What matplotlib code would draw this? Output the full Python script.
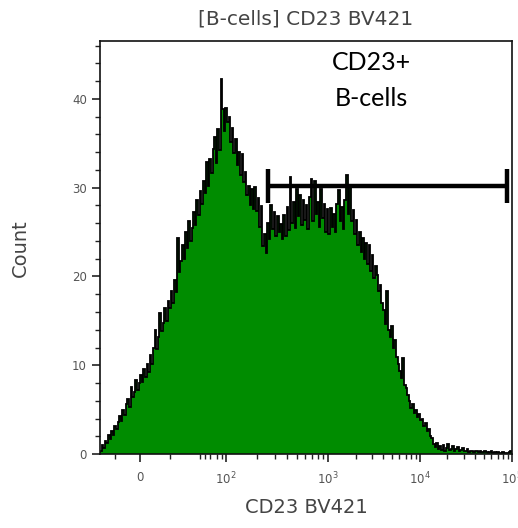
import numpy as np
import matplotlib.pyplot as plt

# histogram counts per display channel (256 channels across the axis)
counts = [
    0.4, 1.0, 0.7, 1.5, 1.2, 2.1, 1.7, 2.6, 2.2, 3.2, 2.8, 3.6, 4.3, 3.7, 5.0, 4.4,
    5.6, 6.2, 5.3, 7.6, 6.4, 7.0, 8.3, 7.2, 8.0, 8.9, 8.1, 9.6, 8.7, 10.2, 9.3, 11.2,
    10.2, 12.0, 14.0, 11.8, 13.2, 15.9, 13.9, 14.8, 16.5, 15.0, 17.2, 16.4, 18.4, 17.0, 19.6, 18.3,
    24.3, 20.5, 21.8, 23.5, 22.0, 25.0, 23.2, 26.2, 24.0, 25.5, 27.3, 25.8, 28.6, 26.9, 29.6, 28.2,
    30.8, 29.4, 32.9, 30.2, 33.2, 31.6, 34.4, 35.7, 32.8, 36.6, 34.2, 42.2, 38.9, 36.4, 39.0, 37.4,
    38.0, 35.2, 36.7, 33.9, 35.5, 32.6, 34.0, 31.4, 33.8, 30.6, 31.8, 29.2, 30.2, 28.0, 29.9, 27.6,
    30.1, 27.4, 28.8, 25.6, 27.9, 23.4, 24.8, 22.6, 26.0, 24.2, 28.0, 25.4, 27.3, 24.6, 26.8, 25.0,
    25.9, 24.2, 26.9, 24.6, 27.8, 25.2, 31.2, 26.0, 28.4, 25.5, 29.9, 26.8, 29.2, 25.8, 28.6, 26.4,
    28.0, 25.4, 29.0, 31.0, 26.2, 30.8, 27.0, 28.4, 25.6, 29.9, 26.6, 28.2, 25.0, 27.6, 24.8, 27.7,
    25.6, 27.0, 25.0, 28.2, 29.7, 26.2, 27.8, 25.4, 28.6, 31.4, 27.0, 30.2, 26.2, 27.5, 24.8, 26.4,
    23.6, 25.0, 22.8, 24.3, 22.0, 23.8, 21.4, 23.5, 20.6, 22.4, 19.8, 21.2, 20.2, 18.4, 19.0, 17.0,
    16.2, 14.6, 18.4, 14.0, 13.2, 14.4, 12.0, 12.8, 10.9, 10.2, 9.4, 8.6, 10.8, 7.8, 7.4, 6.6,
    6.0, 5.2, 5.6, 4.6, 5.0, 4.2, 4.5, 3.8, 4.0, 3.2, 3.5, 2.6, 2.8, 2.0, 1.8, 1.1,
    0.8, 1.2, 0.6, 0.9, 0.5, 1.0, 0.4, 0.7, 1.1, 0.5, 0.6, 0.9, 0.4, 0.6, 0.8, 0.3,
    0.5, 0.7, 0.3, 0.4, 0.6, 0.2, 0.4, 0.3, 0.2, 0.4, 0.3, 0.2, 0.3, 0.2, 0.2, 0.3,
    0.2, 0.1, 0.2, 0.3, 0.1, 0.2, 0.1, 0.2, 0.1, 0.1, 0.2, 0.1, 0.1, 0.1, 0.2, 0.3,
]

# x tick positions in channel units (biexponential display)
xtick_pos = [24.9, 78.3, 141.7, 198.8, 256.0]
xtick_labels = ['0', '$10^2$', '$10^3$', '$10^4$', '$10^5$']
lin_minor = [9.3, 43.5, 62.1, 65.2, 68.3, 72.7, 75.8]

# gate CD23+ (channel units / count)
gate_x = [104.4, 252.9]
gate_y = 30.2
gate_label = 'CD23+\nB-cells'

edges = np.arange(len(counts) + 1)

fig = plt.figure(figsize=(5.18, 5.28), dpi=100)
ax = fig.add_axes([0.193, 0.140, 0.795, 0.782])

ax.stairs(counts, edges, fill=True, color='#008c00', baseline=0)
ax.stairs(counts, edges, color='black', linewidth=1.3, baseline=0)

# gate bar
ax.plot(gate_x, [gate_y, gate_y], color='black', lw=3.2, solid_capstyle='butt')
for gx in gate_x:
    ax.plot([gx, gx], [gate_y - 1.9, gate_y + 1.9], color='black', lw=3.2, solid_capstyle='butt')

ax.text(169, 45.4, gate_label, ha='center', va='top', fontsize=18,
        family='Lato', color='black', linespacing=1.7)

ax.set_xlim(0, 256)
ax.set_ylim(0, 46.5)

# minor x ticks: log decades + linear region
minor = list(lin_minor)
for d0, d1 in zip(xtick_pos[1:-1], xtick_pos[2:]):
    for k in range(2, 10):
        minor.append(d0 + (d1 - d0) * np.log10(k))
ax.set_xticks(xtick_pos)
ax.set_xticklabels(xtick_labels)
ax.set_xticks(minor, minor=True)
ax.set_yticks([0, 10, 20, 30, 40])
ax.set_yticks(np.arange(0, 47, 2), minor=True)

ax.tick_params(which='major', length=6, width=1.2, color='#222222',
               labelcolor='#555555', labelsize=8.5)
ax.tick_params(which='minor', length=3.5, width=1.0, color='#222222')
ax.tick_params(axis='x', pad=6)

for s in ax.spines.values():
    s.set_linewidth(1.2)
    s.set_color('#111111')

ax.set_ylabel('Count', fontsize=14, color='#444444', labelpad=30)
ax.set_xlabel('CD23 BV421', fontsize=14, color='#444444', labelpad=8)
ax.set_title('[B-cells] CD23 BV421', fontsize=14.5, color='#444444', pad=12)

fig.savefig('out.png', dpi=100)
